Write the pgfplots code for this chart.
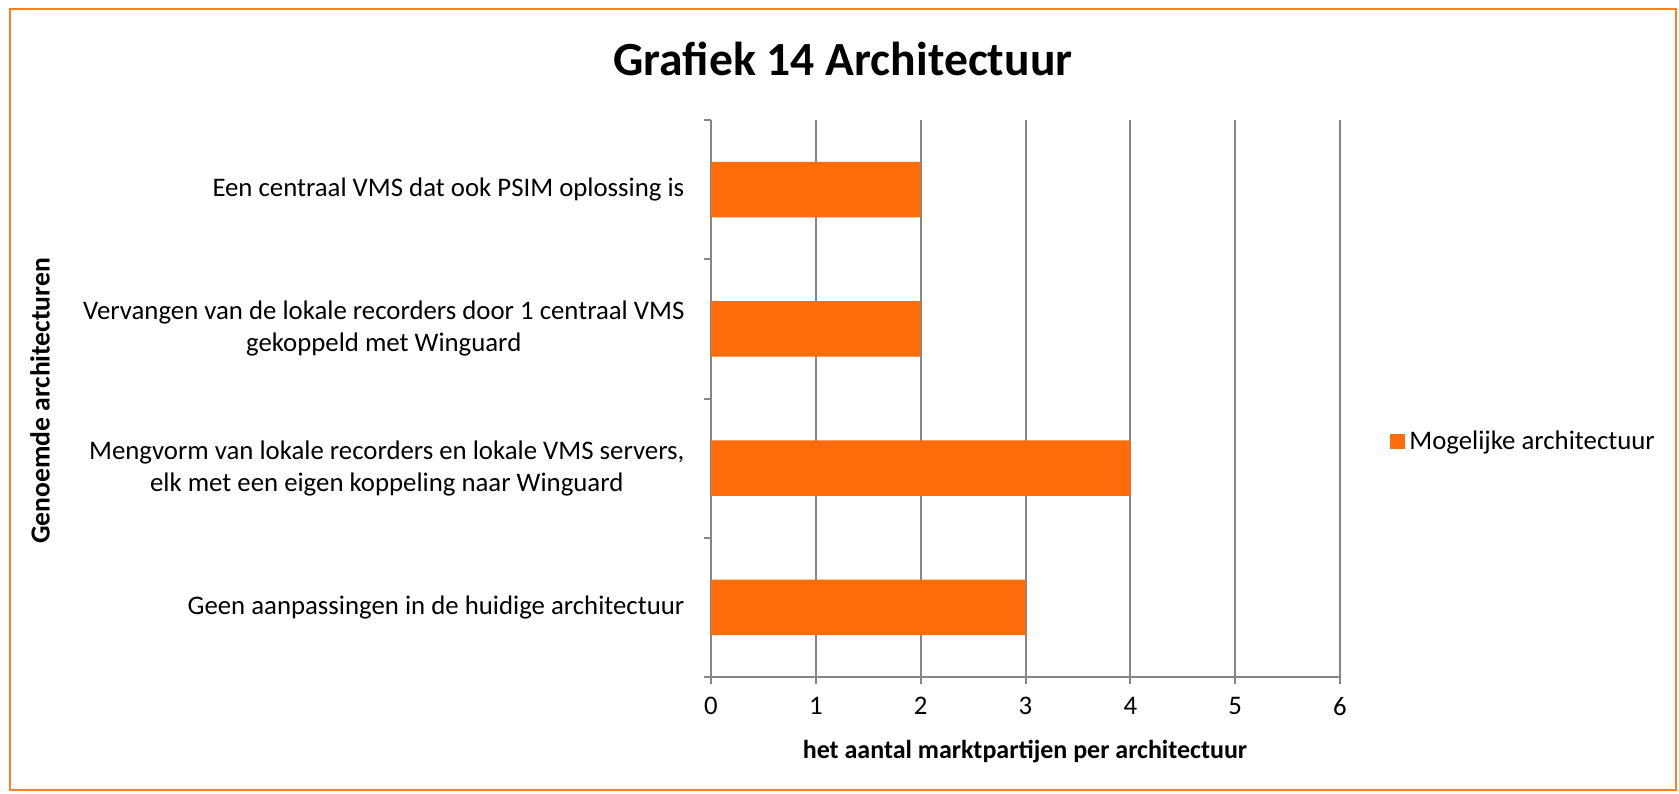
\documentclass[border=0pt]{standalone}
\usepackage{pgfplots}
\pgfplotsset{compat=1.18}
\usepackage{fontspec}
\setmainfont{Carlito}
\definecolor{barorange}{HTML}{FF6C0C}
\definecolor{frameorange}{HTML}{FF7F27}
\definecolor{gridgray}{HTML}{868686}
\begin{document}
\begin{tikzpicture}
\useasboundingbox (0,0) rectangle (839.5pt,396.5pt);
\draw[frameorange, line width=1pt] (4.75pt,1.5pt) rectangle (838pt,391.75pt);
\node[font=\fontsize{23.8}{27}\selectfont\bfseries] at (421.5pt,367pt) {Grafiek 14 Architectuur};
\node[font=\fontsize{13.8}{15}\selectfont\bfseries, rotate=90] at (20pt,196pt) {Genoemde architecturen};
\node[font=\fontsize{13}{15}\selectfont\bfseries] at (512.5pt,20.5pt) {het aantal marktpartijen per architectuur};
\begin{axis}[
    at={(355.5pt,58pt)}, anchor=south west,
    scale only axis,
    width=314.5pt, height=278.5pt,
    xbar,
    bar width=0.4,
    xmin=0, xmax=6,
    ymin=-0.5, ymax=3.5,
    axis x line=bottom, axis y line=left,
    axis line style={-, gridgray, line width=1pt},
    xtick={0,1,2,3,4,5,6},
    xmajorgrids,
    major grid style={gridgray, line width=1pt},
    tick align=outside,
    major tick length=3.5pt,
    tick style={gridgray, line width=1pt},
    xticklabel style={font=\fontsize{13.4}{15}\selectfont, yshift=-3pt},
    ytick={-0.5,0.5,1.5,2.5,3.5},
    y tick label as interval,
    yticklabels={
        Geen aanpassingen in de huidige architectuur,
        {Mengvorm van lokale recorders en lokale VMS servers,\\elk met een eigen koppeling naar Winguard},
        {Vervangen van de lokale recorders door 1 centraal VMS\\gekoppeld met Winguard},
        Een centraal VMS dat ook PSIM oplossing is},
    yticklabel style={font=\fontsize{13.4}{16}\selectfont, align=center, xshift=-6.3pt},
    /pgf/number format/assume math mode=true,
    legend style={at={(1.0795,0.422)}, anchor=west, draw=none, inner sep=0pt,
        font=\fontsize{13.4}{15}\selectfont},
    legend cell align=left,
    legend image code/.code={\fill[barorange] (0pt,-3.75pt) rectangle (7.5pt,3.75pt);},
]
\addplot[draw=none, fill=barorange] coordinates {(3,0) (4,1) (2,2) (2,3)};
\addlegendentry{Mogelijke architectuur}
\end{axis}
\end{tikzpicture}
\end{document}
